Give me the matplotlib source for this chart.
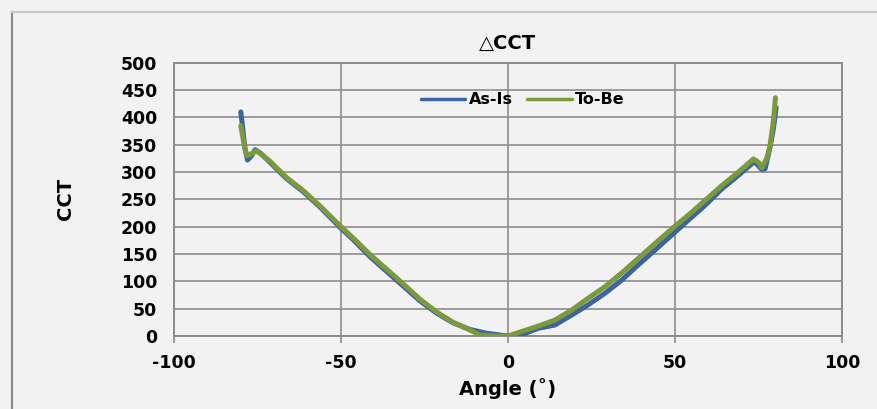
import numpy as np
from matplotlib import pyplot as plt
from matplotlib.lines import Line2D

plt.rcParams['axes.unicode_minus'] = False

# data (angle in degrees, delta CCT)
as_is_x = [-80, -79.5, -78.8, -78, -77, -75.7, -74, -71.3, -68, -66.3, -61.3, -56.3,
           -50, -46.3, -41.3, -36.3, -31.3, -26.3, -21.4, -16.4, -11.4, -6.4, -1.4,
           0, 4, 9, 14, 19, 24, 29, 34, 39, 44, 50, 54, 59, 64, 69, 73, 74, 76, 77,
           78.5, 79.5, 80.3]
as_is_y = [410, 385, 345, 322, 328, 341, 334, 318, 298, 288, 264, 236,
           197, 176, 145, 118, 91, 64, 42, 24, 12, 5, 1,
           0, 2, 14, 20, 38, 57, 78, 102, 130, 157, 190, 212, 239, 269, 294, 315, 318,
           305, 306, 346, 380, 418]

to_be_x = [-80, -79, -78.2, -77, -75.4, -74, -71.3, -66.3, -61.3, -56.3, -50, -46.3,
           -41.3, -36.3, -31.3, -26.3, -21.4, -16.4, -11.4, -8.4, -4, 0, 4, 9, 14,
           19, 24, 29, 34, 39, 44, 50, 54, 59, 64, 69, 73.5, 75, 76, 77.5, 78.5,
           79.5, 80.1]
to_be_y = [385, 350, 330, 333, 339, 333, 320, 290, 266, 238, 200, 179,
           149, 122, 95, 67, 44, 25, 11, 2, 0, 0, 8, 18, 29,
           47, 69, 90, 115, 142, 169, 201, 221, 248, 275, 300, 324, 318, 308, 325, 349,
           395, 436]

x_ticks = [-100, -50, 0, 50, 100]
y_ticks = list(range(0, 501, 50))

bg = '#f2f2f2'
gc = '#8c8c8c'
lw = 3.6

fig = plt.figure(figsize=(8.77, 4.09), dpi=100, facecolor=bg)
ax = fig.add_axes([0.1984, 0.1785, 0.7616, 0.668], facecolor=bg)

ax.plot(as_is_x, as_is_y, color='#3b64a0', lw=lw, solid_joinstyle='round',
        solid_capstyle='round', label='As-Is', zorder=3)
ax.plot(to_be_x, to_be_y, color='#7a9a3c', lw=lw, solid_joinstyle='round',
        solid_capstyle='round', label='To-Be', zorder=4)

ax.set_xlim(-100, 100)
ax.set_ylim(0, 500)
ax.set_xticks(x_ticks)
ax.set_yticks(y_ticks)
ax.grid(True, color=gc, lw=1.2)
ax.set_axisbelow(True)
for s in ax.spines.values():
    s.set_color(gc)
    s.set_linewidth(1.4)
ax.tick_params(axis='x', length=5, width=1.2, color=gc, pad=8, labelsize=12.5)
ax.tick_params(axis='y', length=0, pad=12, labelsize=12.5)
for t in ax.get_xticklabels() + ax.get_yticklabels():
    t.set_fontweight('bold')

ax.set_title('\u25b3CCT', fontsize=14, fontweight='bold', pad=10)
ax.set_xlabel('Angle (\u02da)', fontsize=14, fontweight='bold', labelpad=4)
ax.set_ylabel('CCT', fontsize=14, fontweight='bold', labelpad=33)

leg = ax.legend(loc='center', bbox_to_anchor=(0.522, 0.864), ncol=2, frameon=False,
                handlelength=2.8, columnspacing=0.9, handletextpad=0.2,
                prop={'weight': 'bold', 'size': 11.5})
for h in leg.get_lines():
    h.set_linewidth(2.5)

# outer chart-area frame (left and top edges visible)
fig.add_artist(Line2D([0.014, 0.014], [0, 0.971], color=gc, lw=1.6))
fig.add_artist(Line2D([0.014, 1], [0.971, 0.971], color='#c8c8c8', lw=1.6))

fig.savefig('out.png', dpi=100, facecolor=bg)
